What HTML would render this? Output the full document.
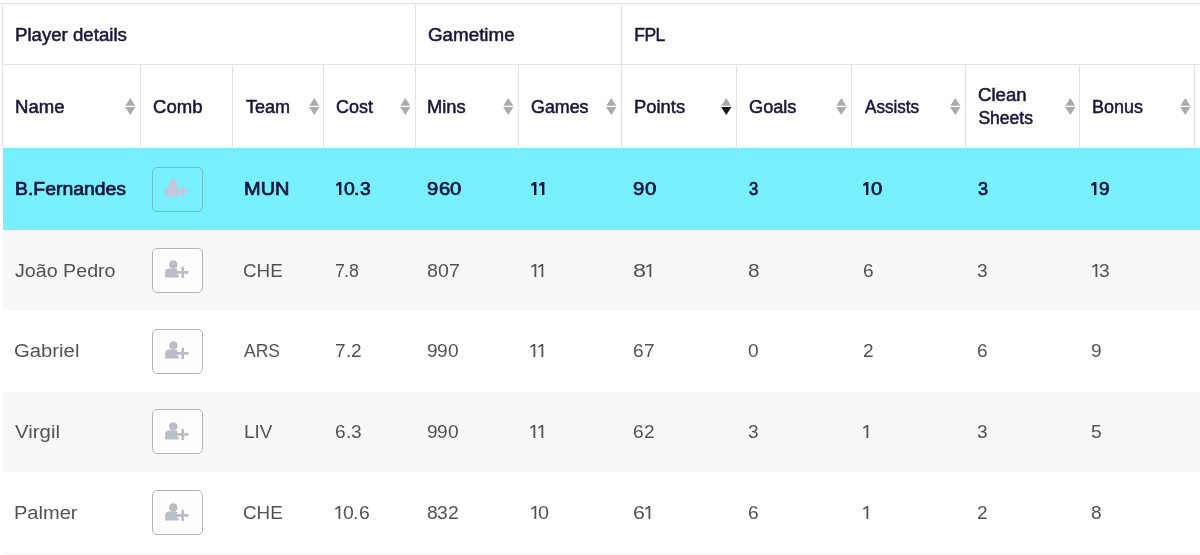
<!DOCTYPE html>
<html><head><meta charset="utf-8"><style>
*{margin:0;padding:0;box-sizing:border-box}
html,body{width:1200px;height:555px;overflow:hidden;background:#fff}
body{position:relative;font-family:"Liberation Sans",sans-serif}
.a{position:absolute}
.t{position:absolute;white-space:nowrap;line-height:1;transform-origin:0 0}
.h{font-weight:normal;color:#18163a;font-size:17.5px;-webkit-text-stroke:0.5px #18163a}
.d{color:#525252;font-size:18px}
.b{font-weight:normal;color:#18163a;-webkit-text-stroke:0.7px #18163a}
.hl{position:absolute;height:1px;background:#e4e4e4}
.vl{position:absolute;width:1px;background:#e4e4e4}
.s{position:absolute}
.btn{position:absolute;left:152px;width:51px;height:45px;border:1.8px solid #b4b4b4;border-radius:5px;background:#fdfdfd}
.btn svg{position:absolute;left:11px;top:12px}
</style></head><body><div id="w" style="position:absolute;left:0;top:0;width:1200px;height:555px;overflow:hidden;filter:blur(0.35px)">

<div class="a" style="left:3px;top:148.4px;width:1197px;height:81.3px;background:#78effc"></div>
<div class="a" style="left:3px;top:229.7px;width:1197px;height:80.6px;background:#f8f8f9"></div>
<div class="a" style="left:3px;top:310.3px;width:1197px;height:81.3px;background:#fff"></div>
<div class="a" style="left:3px;top:391.6px;width:1197px;height:80.5px;background:#f8f8f9"></div>
<div class="a" style="left:3px;top:472.1px;width:1197px;height:81.0px;background:#fff"></div>
<div class="a" style="left:3px;top:553.1px;width:1197px;height:80.9px;background:#f8f8f9"></div>
<div class="a" style="left:3px;top:149px;width:1197px;height:1px;background:#7fe6f2"></div>
<div class="a" style="left:3px;top:230px;width:1197px;height:1px;background:#fdfefe"></div>
<div class="hl" style="left:0;top:3px;width:1200px"></div>
<div class="hl" style="left:3px;top:64px;width:1197px"></div>
<div class="vl" style="left:2px;top:3px;height:145.4px"></div>
<div class="vl" style="left:414.5px;top:3px;height:61px"></div>
<div class="vl" style="left:620.9px;top:3px;height:61px"></div>
<div class="vl" style="left:139.5px;top:64px;height:84.5px"></div>
<div class="vl" style="left:231.5px;top:64px;height:84.5px"></div>
<div class="vl" style="left:323.0px;top:64px;height:84.5px"></div>
<div class="vl" style="left:414.5px;top:64px;height:84.5px"></div>
<div class="vl" style="left:517.5px;top:64px;height:84.5px"></div>
<div class="vl" style="left:620.9px;top:64px;height:84.5px"></div>
<div class="vl" style="left:735.5px;top:64px;height:84.5px"></div>
<div class="vl" style="left:850.5px;top:64px;height:84.5px"></div>
<div class="vl" style="left:964.9px;top:64px;height:84.5px"></div>
<div class="vl" style="left:1079.2px;top:64px;height:84.5px"></div>
<div class="vl" style="left:1194.1px;top:64px;height:84.5px"></div>
<div class="t h" style="left:15.28px;top:27.19px;transform:scaleX(1.065)">Player details</div>
<div class="t h" style="left:427.90px;top:27.19px;transform:scaleX(1.073)">Gametime</div>
<div class="t h" style="left:634.25px;top:27.19px;letter-spacing:-0.50px">FPL</div>
<div class="t h" style="left:15.28px;top:99.19px;transform:scaleX(1.060)">Name</div>
<svg class="s" style="left:125.00px;top:98px" width="10.6" height="17" viewBox="0 0 10.6 17"><path d="M5.3 0L10.3 7.7H0.3Z" fill="#ababab"/><path d="M0.1 9H10.5L5.3 17Z" fill="#ababab"/></svg>
<div class="t h" style="left:153.21px;top:99.19px;transform:scaleX(1.059)">Comb</div>
<div class="t h" style="left:245.65px;top:99.19px;transform:scaleX(1.031)">Team</div>
<svg class="s" style="left:308.50px;top:98px" width="10.6" height="17" viewBox="0 0 10.6 17"><path d="M5.3 0L10.3 7.7H0.3Z" fill="#ababab"/><path d="M0.1 9H10.5L5.3 17Z" fill="#ababab"/></svg>
<div class="t h" style="left:336.33px;top:99.19px;transform:scaleX(1.025)">Cost</div>
<svg class="s" style="left:400.00px;top:98px" width="10.6" height="17" viewBox="0 0 10.6 17"><path d="M5.3 0L10.3 7.7H0.3Z" fill="#ababab"/><path d="M0.1 9H10.5L5.3 17Z" fill="#ababab"/></svg>
<div class="t h" style="left:427.49px;top:99.19px;transform:scaleX(1.048)">Mins</div>
<svg class="s" style="left:503.00px;top:98px" width="10.6" height="17" viewBox="0 0 10.6 17"><path d="M5.3 0L10.3 7.7H0.3Z" fill="#ababab"/><path d="M0.1 9H10.5L5.3 17Z" fill="#ababab"/></svg>
<div class="t h" style="left:531.24px;top:99.19px;transform:scaleX(1.020)">Games</div>
<svg class="s" style="left:606.40px;top:98px" width="10.6" height="17" viewBox="0 0 10.6 17"><path d="M5.3 0L10.3 7.7H0.3Z" fill="#ababab"/><path d="M0.1 9H10.5L5.3 17Z" fill="#ababab"/></svg>
<div class="t h" style="left:633.89px;top:99.19px;transform:scaleX(1.051)">Points</div>
<svg class="s" style="left:721.00px;top:98px" width="10.6" height="17" viewBox="0 0 10.6 17"><path d="M5.3 0L10.3 7.7H0.3Z" fill="#ababab"/><path d="M0.1 9H10.5L5.3 17Z" fill="#111"/></svg>
<div class="t h" style="left:748.83px;top:99.19px;transform:scaleX(1.038)">Goals</div>
<svg class="s" style="left:836.00px;top:98px" width="10.6" height="17" viewBox="0 0 10.6 17"><path d="M5.3 0L10.3 7.7H0.3Z" fill="#ababab"/><path d="M0.1 9H10.5L5.3 17Z" fill="#ababab"/></svg>
<div class="t h" style="left:864.54px;top:99.19px;transform:scaleX(0.975)">Assists</div>
<svg class="s" style="left:950.40px;top:98px" width="10.6" height="17" viewBox="0 0 10.6 17"><path d="M5.3 0L10.3 7.7H0.3Z" fill="#ababab"/><path d="M0.1 9H10.5L5.3 17Z" fill="#ababab"/></svg>
<div class="t h" style="left:978.31px;top:87.19px;transform:scaleX(1.063)">Clean</div>
<div class="t h" style="left:978.45px;top:110.19px">Sheets</div>
<svg class="s" style="left:1064.70px;top:98px" width="10.6" height="17" viewBox="0 0 10.6 17"><path d="M5.3 0L10.3 7.7H0.3Z" fill="#ababab"/><path d="M0.1 9H10.5L5.3 17Z" fill="#ababab"/></svg>
<div class="t h" style="left:1092.32px;top:98.79px;transform:scaleX(1.025)">Bonus</div>
<svg class="s" style="left:1179.60px;top:98px" width="10.6" height="17" viewBox="0 0 10.6 17"><path d="M5.3 0L10.3 7.7H0.3Z" fill="#ababab"/><path d="M0.1 9H10.5L5.3 17Z" fill="#ababab"/></svg>
<div class="t d b" style="left:14.76px;top:179.76px;transform:scaleX(1.077)">B.Fernandes</div>
<div class="btn" style="top:166.6px;background:transparent;border-width:1.6px;border-color:rgba(95,125,135,.42)"></div>
<svg class="a" style="left:160px;top:177.35px;opacity:1" width="36" height="24" viewBox="160 177.35 36 24"><circle cx="173.3" cy="183.95" r="4.25" fill="#c6c5da"/><path d="M165.1 196.75 V191.75 Q165.1 187.75 169.3 187.75 H174.6 Q178.6 187.75 178.6 191.75 V196.75 Z" fill="#c6c5da"/><path d="M177 191.75 H188.5 M182.75 186.15 V197.35" stroke="none" stroke-width="4.8" fill="none"/><path d="M177 191.75 H188.5 M182.75 186.15 V197.35" stroke="#c6c5da" stroke-width="2.6" fill="none"/></svg>
<div class="t d b" style="left:243.63px;top:179.76px;transform:scaleX(1.109)">MUN</div>
<svg class="a" style="left:335.75px;top:182.00px" width="8.0" height="13.0" viewBox="0 0 8.0 13.0"><rect x="3.00" y="0" width="2.40" height="13.00" fill="#18163a"/><path d="M3.60 0.80L0.30 3.35" stroke="#18163a" stroke-width="2.20"/></svg>
<div class="t d b" style="left:343.75px;top:179.76px;transform:scaleX(1.070)">0</div>
<div class="t d b" style="left:354.46px;top:179.76px;transform:scaleX(1.070)">.</div>
<div class="t d b" style="left:359.81px;top:179.76px;transform:scaleX(1.070)">3</div>
<div class="t d b" style="left:427.45px;top:179.76px;transform:scaleX(1.122)">9</div>
<div class="t d b" style="left:438.68px;top:179.76px;transform:scaleX(1.122)">6</div>
<div class="t d b" style="left:449.92px;top:179.76px;transform:scaleX(1.122)">0</div>
<svg class="a" style="left:530.65px;top:182.00px" width="8.0" height="13.0" viewBox="0 0 8.0 13.0"><rect x="3.00" y="0" width="2.40" height="13.00" fill="#18163a"/><path d="M3.60 0.80L0.30 3.35" stroke="#18163a" stroke-width="2.20"/></svg>
<svg class="a" style="left:538.65px;top:182.00px" width="8.0" height="13.0" viewBox="0 0 8.0 13.0"><rect x="3.00" y="0" width="2.40" height="13.00" fill="#18163a"/><path d="M3.60 0.80L0.30 3.35" stroke="#18163a" stroke-width="2.20"/></svg>
<div class="t d b" style="left:633.44px;top:179.76px;transform:scaleX(1.134)">9</div>
<div class="t d b" style="left:644.80px;top:179.76px;transform:scaleX(1.134)">0</div>
<div class="t d b" style="left:748.70px;top:179.76px;transform:scaleX(0.929)">3</div>
<svg class="a" style="left:862.65px;top:182.00px" width="8.0" height="13.0" viewBox="0 0 8.0 13.0"><rect x="3.00" y="0" width="2.40" height="13.00" fill="#18163a"/><path d="M3.60 0.80L0.30 3.35" stroke="#18163a" stroke-width="2.20"/></svg>
<div class="t d b" style="left:870.65px;top:179.76px;transform:scaleX(1.129)">0</div>
<div class="t d b" style="left:977.54px;top:179.76px;transform:scaleX(1.012)">3</div>
<svg class="a" style="left:1091.35px;top:182.00px" width="8.0" height="13.0" viewBox="0 0 8.0 13.0"><rect x="3.00" y="0" width="2.40" height="13.00" fill="#18163a"/><path d="M3.60 0.80L0.30 3.35" stroke="#18163a" stroke-width="2.20"/></svg>
<div class="t d b" style="left:1099.35px;top:179.76px;transform:scaleX(1.054)">9</div>
<div class="t d" style="left:15.17px;top:261.76px;transform:scaleX(1.092)">João Pedro</div>
<div class="btn" style="top:247.5px"></div>
<svg class="a" style="left:160px;top:258.00px;opacity:1" width="36" height="24" viewBox="160 258.00 36 24"><circle cx="173.3" cy="264.60" r="4.25" fill="#b9bdc5"/><path d="M165.1 277.40 V272.40 Q165.1 268.40 169.3 268.40 H174.6 Q178.6 268.40 178.6 272.40 V277.40 Z" fill="#b9bdc5"/><path d="M177 272.40 H188.5 M182.75 266.80 V278.00" stroke="#fdfdfd" stroke-width="4.8" fill="none"/><path d="M177 272.40 H188.5 M182.75 266.80 V278.00" stroke="#b9bdc5" stroke-width="2.6" fill="none"/></svg>
<div class="t d" style="left:243.46px;top:261.76px;transform:scaleX(1.047)">CHE</div>
<div class="t d" style="left:334.51px;top:261.76px;transform:scaleX(0.987)">7</div>
<div class="t d" style="left:344.39px;top:261.76px;transform:scaleX(0.987)">.</div>
<div class="t d" style="left:349.32px;top:261.76px;transform:scaleX(0.987)">8</div>
<div class="t d" style="left:426.73px;top:261.76px;transform:scaleX(1.087)">8</div>
<div class="t d" style="left:437.62px;top:261.76px;transform:scaleX(1.087)">0</div>
<div class="t d" style="left:448.50px;top:261.76px;transform:scaleX(1.087)">7</div>
<svg class="a" style="left:530.65px;top:264.00px" width="7.2" height="13.0" viewBox="0 0 7.2 13.0"><rect x="3.50" y="0" width="1.80" height="13.00" fill="#525252"/><path d="M4.00 0.70L0.35 3.15" stroke="#525252" stroke-width="1.60"/></svg>
<svg class="a" style="left:537.85px;top:264.00px" width="7.2" height="13.0" viewBox="0 0 7.2 13.0"><rect x="3.50" y="0" width="1.80" height="13.00" fill="#525252"/><path d="M4.00 0.70L0.35 3.15" stroke="#525252" stroke-width="1.60"/></svg>
<div class="t d" style="left:632.76px;top:261.76px;transform:scaleX(1.300)">8</div>
<svg class="a" style="left:645.77px;top:264.00px" width="7.2" height="13.0" viewBox="0 0 7.2 13.0"><rect x="3.50" y="0" width="1.80" height="13.00" fill="#525252"/><path d="M4.00 0.70L0.35 3.15" stroke="#525252" stroke-width="1.60"/></svg>
<div class="t d" style="left:747.68px;top:261.76px;transform:scaleX(1.155)">8</div>
<div class="t d" style="left:862.55px;top:261.76px;transform:scaleX(1.060)">6</div>
<div class="t d" style="left:977.16px;top:261.76px;transform:scaleX(1.060)">3</div>
<svg class="a" style="left:1092.05px;top:264.00px" width="7.2" height="13.0" viewBox="0 0 7.2 13.0"><rect x="3.50" y="0" width="1.80" height="13.00" fill="#525252"/><path d="M4.00 0.70L0.35 3.15" stroke="#525252" stroke-width="1.60"/></svg>
<div class="t d" style="left:1099.25px;top:261.76px;transform:scaleX(1.060)">3</div>
<div class="t d" style="left:14.49px;top:341.76px;transform:scaleX(1.127)">Gabriel</div>
<div class="btn" style="top:328.5px"></div>
<svg class="a" style="left:160px;top:338.95px;opacity:1" width="36" height="24" viewBox="160 338.95 36 24"><circle cx="173.3" cy="345.55" r="4.25" fill="#b9bdc5"/><path d="M165.1 358.35 V353.35 Q165.1 349.35 169.3 349.35 H174.6 Q178.6 349.35 178.6 353.35 V358.35 Z" fill="#b9bdc5"/><path d="M177 353.35 H188.5 M182.75 347.75 V358.95" stroke="#fdfdfd" stroke-width="4.8" fill="none"/><path d="M177 353.35 H188.5 M182.75 347.75 V358.95" stroke="#b9bdc5" stroke-width="2.6" fill="none"/></svg>
<div class="t d" style="left:244.25px;top:341.76px;transform:scaleX(0.974)">ARS</div>
<div class="t d" style="left:335.05px;top:341.76px;transform:scaleX(1.060)">7</div>
<div class="t d" style="left:345.66px;top:341.76px;transform:scaleX(1.060)">.</div>
<div class="t d" style="left:350.96px;top:341.76px;transform:scaleX(1.060)">2</div>
<div class="t d" style="left:426.65px;top:341.76px;transform:scaleX(1.060)">9</div>
<div class="t d" style="left:437.26px;top:341.76px;transform:scaleX(1.060)">9</div>
<div class="t d" style="left:447.88px;top:341.76px;transform:scaleX(1.060)">0</div>
<svg class="a" style="left:530.35px;top:344.00px" width="7.2" height="13.0" viewBox="0 0 7.2 13.0"><rect x="3.50" y="0" width="1.80" height="13.00" fill="#525252"/><path d="M4.00 0.70L0.35 3.15" stroke="#525252" stroke-width="1.60"/></svg>
<svg class="a" style="left:537.55px;top:344.00px" width="7.2" height="13.0" viewBox="0 0 7.2 13.0"><rect x="3.50" y="0" width="1.80" height="13.00" fill="#525252"/><path d="M4.00 0.70L0.35 3.15" stroke="#525252" stroke-width="1.60"/></svg>
<div class="t d" style="left:632.95px;top:341.76px;transform:scaleX(1.060)">6</div>
<div class="t d" style="left:643.56px;top:341.76px;transform:scaleX(1.060)">7</div>
<div class="t d" style="left:747.76px;top:341.76px;transform:scaleX(1.060)">0</div>
<div class="t d" style="left:862.55px;top:341.76px;transform:scaleX(1.060)">2</div>
<div class="t d" style="left:976.95px;top:341.76px;transform:scaleX(1.060)">6</div>
<div class="t d" style="left:1091.35px;top:341.76px;transform:scaleX(1.060)">9</div>
<div class="t d" style="left:15.09px;top:422.76px;transform:scaleX(1.133)">Virgil</div>
<div class="btn" style="top:409.4px"></div>
<svg class="a" style="left:160px;top:419.85px;opacity:1" width="36" height="24" viewBox="160 419.85 36 24"><circle cx="173.3" cy="426.45" r="4.25" fill="#b9bdc5"/><path d="M165.1 439.25 V434.25 Q165.1 430.25 169.3 430.25 H174.6 Q178.6 430.25 178.6 434.25 V439.25 Z" fill="#b9bdc5"/><path d="M177 434.25 H188.5 M182.75 428.65 V439.85" stroke="#fdfdfd" stroke-width="4.8" fill="none"/><path d="M177 434.25 H188.5 M182.75 428.65 V439.85" stroke="#b9bdc5" stroke-width="2.6" fill="none"/></svg>
<div class="t d" style="left:243.67px;top:422.76px;transform:scaleX(1.053)">LIV</div>
<div class="t d" style="left:335.05px;top:422.76px;transform:scaleX(1.060)">6</div>
<div class="t d" style="left:345.66px;top:422.76px;transform:scaleX(1.060)">.</div>
<div class="t d" style="left:350.96px;top:422.76px;transform:scaleX(1.060)">3</div>
<div class="t d" style="left:426.65px;top:422.76px;transform:scaleX(1.060)">9</div>
<div class="t d" style="left:437.26px;top:422.76px;transform:scaleX(1.060)">9</div>
<div class="t d" style="left:447.88px;top:422.76px;transform:scaleX(1.060)">0</div>
<svg class="a" style="left:530.35px;top:425.00px" width="7.2" height="13.0" viewBox="0 0 7.2 13.0"><rect x="3.50" y="0" width="1.80" height="13.00" fill="#525252"/><path d="M4.00 0.70L0.35 3.15" stroke="#525252" stroke-width="1.60"/></svg>
<svg class="a" style="left:537.55px;top:425.00px" width="7.2" height="13.0" viewBox="0 0 7.2 13.0"><rect x="3.50" y="0" width="1.80" height="13.00" fill="#525252"/><path d="M4.00 0.70L0.35 3.15" stroke="#525252" stroke-width="1.60"/></svg>
<div class="t d" style="left:632.95px;top:422.76px;transform:scaleX(1.060)">6</div>
<div class="t d" style="left:643.56px;top:422.76px;transform:scaleX(1.060)">2</div>
<div class="t d" style="left:747.76px;top:422.76px;transform:scaleX(1.060)">3</div>
<svg class="a" style="left:863.35px;top:425.00px" width="7.2" height="13.0" viewBox="0 0 7.2 13.0"><rect x="3.50" y="0" width="1.80" height="13.00" fill="#525252"/><path d="M4.00 0.70L0.35 3.15" stroke="#525252" stroke-width="1.60"/></svg>
<div class="t d" style="left:977.16px;top:422.76px;transform:scaleX(1.060)">3</div>
<div class="t d" style="left:1091.46px;top:422.76px;transform:scaleX(1.060)">5</div>
<div class="t d" style="left:13.53px;top:503.76px;transform:scaleX(1.114)">Palmer</div>
<div class="btn" style="top:490.1px"></div>
<svg class="a" style="left:160px;top:500.60px;opacity:1" width="36" height="24" viewBox="160 500.60 36 24"><circle cx="173.3" cy="507.20" r="4.25" fill="#b9bdc5"/><path d="M165.1 520.00 V515.00 Q165.1 511.00 169.3 511.00 H174.6 Q178.6 511.00 178.6 515.00 V520.00 Z" fill="#b9bdc5"/><path d="M177 515.00 H188.5 M182.75 509.40 V520.60" stroke="#fdfdfd" stroke-width="4.8" fill="none"/><path d="M177 515.00 H188.5 M182.75 509.40 V520.60" stroke="#b9bdc5" stroke-width="2.6" fill="none"/></svg>
<div class="t d" style="left:243.46px;top:503.76px;transform:scaleX(1.047)">CHE</div>
<svg class="a" style="left:335.45px;top:506.00px" width="7.2" height="13.0" viewBox="0 0 7.2 13.0"><rect x="3.50" y="0" width="1.80" height="13.00" fill="#525252"/><path d="M4.00 0.70L0.35 3.15" stroke="#525252" stroke-width="1.60"/></svg>
<div class="t d" style="left:342.65px;top:503.76px;transform:scaleX(1.076)">0</div>
<div class="t d" style="left:353.42px;top:503.76px;transform:scaleX(1.076)">.</div>
<div class="t d" style="left:358.80px;top:503.76px;transform:scaleX(1.076)">6</div>
<div class="t d" style="left:426.74px;top:503.76px;transform:scaleX(1.073)">8</div>
<div class="t d" style="left:437.49px;top:503.76px;transform:scaleX(1.073)">3</div>
<div class="t d" style="left:448.23px;top:503.76px;transform:scaleX(1.073)">2</div>
<svg class="a" style="left:530.85px;top:506.00px" width="7.2" height="13.0" viewBox="0 0 7.2 13.0"><rect x="3.50" y="0" width="1.80" height="13.00" fill="#525252"/><path d="M4.00 0.70L0.35 3.15" stroke="#525252" stroke-width="1.60"/></svg>
<div class="t d" style="left:538.05px;top:503.76px;transform:scaleX(1.102)">0</div>
<div class="t d" style="left:632.83px;top:503.76px;transform:scaleX(1.185)">6</div>
<svg class="a" style="left:644.70px;top:506.00px" width="7.2" height="13.0" viewBox="0 0 7.2 13.0"><rect x="3.50" y="0" width="1.80" height="13.00" fill="#525252"/><path d="M4.00 0.70L0.35 3.15" stroke="#525252" stroke-width="1.60"/></svg>
<div class="t d" style="left:747.55px;top:503.76px;transform:scaleX(1.060)">6</div>
<svg class="a" style="left:863.35px;top:506.00px" width="7.2" height="13.0" viewBox="0 0 7.2 13.0"><rect x="3.50" y="0" width="1.80" height="13.00" fill="#525252"/><path d="M4.00 0.70L0.35 3.15" stroke="#525252" stroke-width="1.60"/></svg>
<div class="t d" style="left:976.95px;top:503.76px;transform:scaleX(1.060)">2</div>
<div class="t d" style="left:1091.35px;top:503.76px;transform:scaleX(1.060)">8</div>
</div></body></html>
